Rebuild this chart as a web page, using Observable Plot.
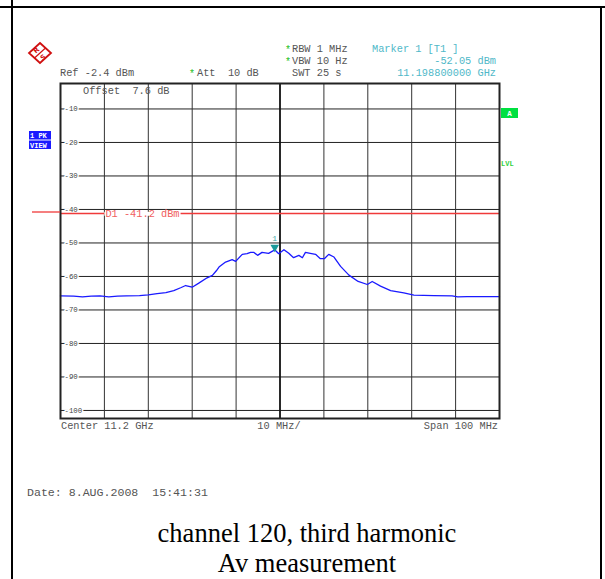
<!DOCTYPE html>
<html>
<head>
<meta charset="utf-8">
<script src="https://cdn.jsdelivr.net/npm/d3@7"></script>
<script src="https://cdn.jsdelivr.net/npm/@observablehq/plot@0.6"></script>
<style>
  html, body { margin: 0; padding: 0; background: #fff; }
  #chart svg { display: block; }
</style>
</head>
<body>
<div id="chart"></div>
<script>
// ---- data (frequency in GHz, level in dBm) ----
const traceFreqMHz = [-50,-47,-45,-43,-41,-39,-37,-35,-32,-30,-28,-26,-24.2,-22.5,-21.5,-20.0,-18.5,-16.6,-15.4,-14.5,-13.9,-12.4,-10.9,-10.1,-8.6,-7.5,-6.7,-6.0,-5.1,-4.1,-2.6,-1.2,-0.3,0.9,2.0,3.1,4.3,5.1,5.8,6.9,8.1,9.2,10.1,11.1,12.3,13.8,15.7,17.8,19.9,21.0,22.9,25.2,28.2,30.5,35.0,39.2,40.5,42.6,46,50];
const traceLevel   = [-65.8,-65.9,-66.1,-65.9,-65.8,-66.1,-65.9,-65.8,-65.7,-65.5,-65.1,-64.8,-64.2,-63.3,-62.7,-63.2,-62.0,-60.4,-59.7,-58.3,-57.2,-55.7,-55.0,-55.5,-53.4,-53.2,-52.8,-52.8,-53.7,-52.8,-53.1,-52.05,-53.2,-52.0,-53.1,-54.4,-53.7,-54.4,-52.8,-53.1,-53.4,-54.7,-54.7,-53.4,-54.2,-57.0,-59.6,-61.5,-62.4,-61.5,-62.9,-64.2,-64.9,-65.6,-65.7,-65.8,-66.1,-66.0,-66.0,-66.0];
const centerGHz = 11.2;
const spanGHz = 0.1;
const refLevel = -2.4;
const yTicks = [-10,-20,-30,-40,-50,-60,-70,-80,-90,-100];
const xGridMHz = [-40,-30,-20,-10,0,10,20,30,40];
const d1Level = -41.2;
const markerFreq = 11.1988;
const markerLevel = -52.05;

const trace = traceFreqMHz.map((f, i) => ({f: centerGHz + f / 1000, v: traceLevel[i]}));
const xGrid = xGridMHz.map(f => centerGHz + f / 1000);
const xDomain = [centerGHz - spanGHz / 2, centerGHz + spanGHz / 2];
const yDomain = [refLevel - 100, refLevel];

const mono = "'Liberation Mono', 'DejaVu Sans Mono', monospace";

const plot = Plot.plot({
  width: 605,
  height: 579,
  marginLeft: 60,
  marginRight: 106,
  marginTop: 83,
  marginBottom: 161,
  style: {background: "#fff", overflow: "visible"},
  x: {domain: xDomain, axis: null},
  y: {domain: yDomain, axis: null},
  marks: [
    Plot.ruleY(yTicks, {stroke: "#222", strokeWidth: 1}),
    Plot.ruleX(xGrid, {stroke: d => Math.abs(d - centerGHz) < 1e-9 ? "#111" : "#333", strokeWidth: d => Math.abs(d - centerGHz) < 1e-9 ? 1.8 : 1}),
    Plot.text(yTicks, {x: xDomain[0], y: d => d, text: d => String(d), dx: 4, textAnchor: "start", fontSize: 7.4, fontFamily: mono, fill: "#444", stroke: "#fff", strokeWidth: 3}),
    Plot.ruleY([d1Level], {stroke: "#f03a3a", strokeWidth: 1.3}),
    Plot.text([d1Level], {x: xGrid[0], y: d => d, text: d => `D1 ${d} dBm`, textAnchor: "start", dx: 1, fontSize: 10.3, fontFamily: mono, fill: "#f06060"}),
    Plot.line(trace, {x: "f", y: "v", stroke: "#1a1aff", strokeWidth: 1.3}),
    Plot.dot([{f: markerFreq, v: markerLevel}], {x: "f", y: "v", symbol: "triangle", r: 3.2, rotate: 180, fill: "#1a9a9a", dy: -2.5}),
    Plot.text([{f: markerFreq, v: markerLevel}], {x: "f", y: "v", text: () => "1", dy: -11, fontSize: 8, fontFamily: mono, fill: "#3aa8a8"}),
    Plot.frame({stroke: "#222", strokeWidth: 2})
  ]
});

document.getElementById("chart").appendChild(plot);

const svg = d3.select(plot);

// white knock-out behind the D1 label so the red line stops at the text
svg.selectAll("text").filter(function () { return this.textContent.startsWith("D1"); }).each(function () {
  const bb = this.getBBox();
  const parent = this.parentNode;
  const ns = "http://www.w3.org/2000/svg";
  const r = document.createElementNS(ns, "rect");
  r.setAttribute("x", bb.x - 1);
  r.setAttribute("y", bb.y + bb.height / 2 - 2);
  r.setAttribute("width", bb.width + 2);
  r.setAttribute("height", 4);
  r.setAttribute("fill", "#fff");
  const tr = this.getAttribute("transform");
  if (tr) r.setAttribute("transform", tr);
  parent.insertBefore(r, this);
});

const g = svg.append("g");
function txt(x, y, s, o = {}) {
  const t = g.append("text").attr("x", x).attr("y", y).text(s)
    .attr("font-family", o.family || mono)
    .attr("font-size", o.size || 10.3)
    .attr("fill", o.fill || "#555")
    .attr("text-anchor", o.anchor || "start")
    .style("white-space", "pre");
  if (o.weight) t.attr("font-weight", o.weight);
  return t;
}

// outer page borders
g.append("line").attr("x1", 0).attr("x2", 605).attr("y1", 7).attr("y2", 7).attr("stroke", "#000").attr("stroke-width", 2);
g.append("line").attr("x1", 12).attr("x2", 12).attr("y1", 0).attr("y2", 579).attr("stroke", "#000").attr("stroke-width", 2);
g.append("line").attr("x1", 601).attr("x2", 601).attr("y1", 7).attr("y2", 579).attr("stroke", "#000").attr("stroke-width", 2);

// red D1 line extension left of frame
g.append("line").attr("x1", 32).attr("x2", 60).attr("y1", 212).attr("y2", 212).attr("stroke", "#f03a3a").attr("stroke-width", 1.3);

// R&S logo
const logo = g.append("g").attr("transform", "translate(40,53)");
logo.append("path").attr("d", "M0,-10 L11,0 L0,10 L-11,0 Z").attr("fill", "none").attr("stroke", "#d01010").attr("stroke-width", 1.8);
logo.append("line").attr("x1", 5.5).attr("y1", -5).attr("x2", -5.5).attr("y2", 5).attr("stroke", "#d01010").attr("stroke-width", 1.2);
logo.append("text").attr("x", -3.5).attr("y", -0.5).attr("text-anchor", "middle").attr("font-size", 7).attr("font-family", "'DejaVu Sans', sans-serif").attr("font-weight", "bold").attr("fill", "#d01010").attr("transform", "rotate(-40,-3.5,-2.5)").text("R");
logo.append("text").attr("x", 3.5).attr("y", 6.5).attr("text-anchor", "middle").attr("font-size", 7).attr("font-family", "'DejaVu Sans', sans-serif").attr("font-weight", "bold").attr("fill", "#d01010").attr("transform", "rotate(-40,3.5,4.5)").text("S");

// header
const ast = {fill: "#22c022", size: 10};
txt(285, 53, "*", ast);
txt(292, 52, "RBW 1 MHz");
txt(285, 65, "*", ast);
txt(292, 64, "VBW 10 Hz");
txt(60, 76, "Ref -2.4 dBm");
txt(189, 77, "*", ast);
txt(197, 76, "Att  10 dB");
txt(292, 76, "SWT 25 s");
txt(372, 52, "Marker 1 [T1 ]", {fill: "#4fb8c8"});
txt(496, 64, "-52.05 dBm", {fill: "#4fb8c8", anchor: "end"});
txt(496, 76, "11.198800000 GHz", {fill: "#4fb8c8", anchor: "end"});

// offset inside frame
txt(83, 94, "Offset  7.6 dB");

// left 1 PK VIEW box
g.append("rect").attr("x", 29).attr("y", 131).attr("width", 22).attr("height", 8.5).attr("fill", "#1a1aff");
g.append("rect").attr("x", 29).attr("y", 140.5).attr("width", 22).attr("height", 8.5).attr("fill", "#1a1aff");
txt(30, 138, "1 PK", {fill: "#fff", size: 7, weight: "bold"});
txt(30, 147.5, "VIEW", {fill: "#fff", size: 7, weight: "bold"});

// right A box and LVL
g.append("rect").attr("x", 501).attr("y", 108).attr("width", 17).attr("height", 10).attr("fill", "#00e040");
txt(509.5, 116, "A", {fill: "#fff", size: 7.5, weight: "bold", anchor: "middle"});
txt(501, 166, "LVL", {fill: "#30d040", size: 7, weight: "bold"});

// bottom labels
txt(61, 429, "Center 11.2 GHz");
txt(279, 429, "10 MHz/", {anchor: "middle"});
txt(498, 429, "Span 100 MHz", {anchor: "end"});

// date
txt(27, 496, "Date: 8.AUG.2008  15:41:31", {size: 11.6});

// caption
const serif = "'Liberation Serif', 'Times New Roman', serif";
txt(307, 542, "channel 120, third harmonic", {family: serif, size: 26.5, fill: "#000", anchor: "middle"});
txt(307, 572, "Av measurement", {family: serif, size: 26.5, fill: "#000", anchor: "middle"});
</script>
</body>
</html>
